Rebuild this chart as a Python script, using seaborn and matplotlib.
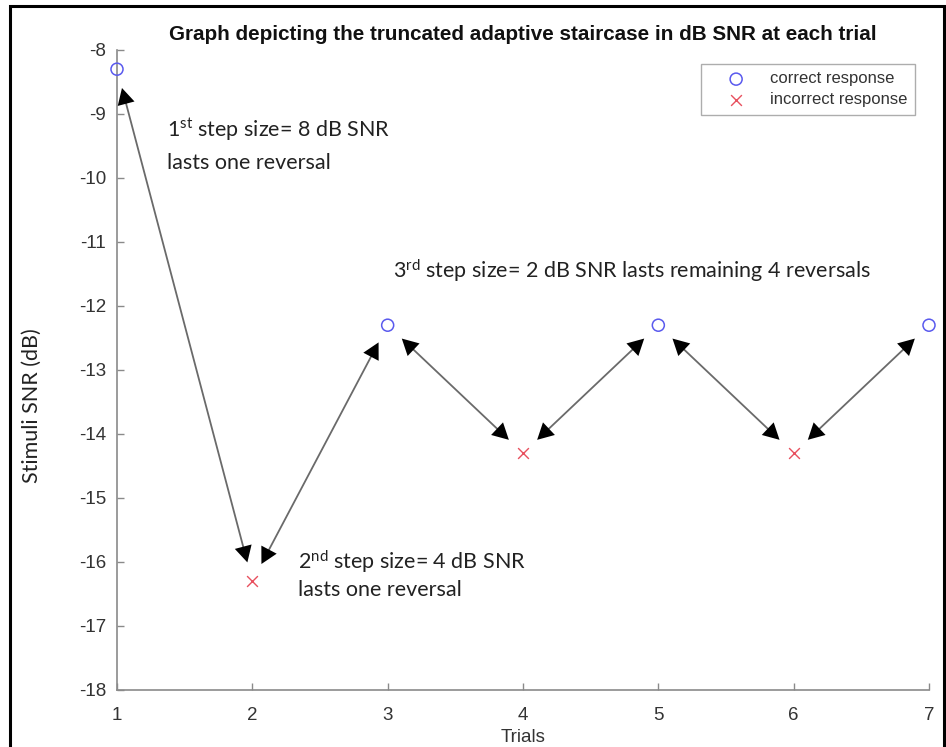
import matplotlib
matplotlib.use("Agg")
import matplotlib.pyplot as plt
from matplotlib.patches import Rectangle
import pandas as pd
import seaborn as sns

# Staircase track: trial number, presented SNR and response outcome
trials = [1, 2, 3, 4, 5, 6, 7]
snr_db = [-8.3, -16.3, -12.3, -14.3, -12.3, -14.3, -12.3]
responses = ["correct response", "incorrect response", "correct response",
             "incorrect response", "correct response", "incorrect response",
             "correct response"]

x_ticks = [1, 2, 3, 4, 5, 6, 7]
y_ticks = [-18, -17, -16, -15, -14, -13, -12, -11, -10, -9, -8]

title = "Graph depicting the truncated adaptive staircase in dB SNR at each trial"
note_1 = ["1$^{\\mathrm{st}}$ step size= 8 dB SNR", "lasts one reversal"]
note_2 = ["2$^{\\mathrm{nd}}$ step size= 4 dB SNR", "lasts one reversal"]
note_3 = "3$^{\\mathrm{rd}}$ step size= 2 dB SNR lasts remaining 4 reversals"

df = pd.DataFrame({"Trial": trials, "SNR": snr_db, "Response": responses})

sns.set_theme(style="white")
plt.rcParams["font.family"] = ["Liberation Sans", "DejaVu Sans"]
plt.rcParams["mathtext.fontset"] = "custom"
plt.rcParams["mathtext.rm"] = "Lato"
plt.rcParams["mathtext.it"] = "Lato:italic"
plt.rcParams["mathtext.bf"] = "Lato:bold"

W, H = 946, 747
fig = plt.figure(figsize=(W / 100, H / 100), dpi=100)
ax = fig.add_axes([117 / W, 1 - 690 / H, (929 - 117) / W, (690 - 50) / H])

blue = "#5a5aee"
red = "#e8505e"
hit = df[df["Response"] == "correct response"]
miss = df[df["Response"] == "incorrect response"]
sns.scatterplot(data=hit, x="Trial", y="SNR", marker="o", s=75,
                facecolors="none", edgecolor=blue, linewidth=1.1,
                label="correct response", ax=ax, zorder=3, clip_on=False)
sns.scatterplot(data=miss, x="Trial", y="SNR", marker="x", s=60,
                color=red, linewidth=1.0,
                label="incorrect response", ax=ax, zorder=3, clip_on=False)

# Double-headed arrows between consecutive trials: grey shaft, black heads
for i in range(len(trials) - 1):
    p0 = (trials[i], snr_db[i])
    p1 = (trials[i + 1], snr_db[i + 1])
    ax.annotate("", xy=p1, xytext=p0,
                arrowprops=dict(arrowstyle="-", color="#6a6a6a", lw=1.3,
                                shrinkA=22, shrinkB=22))
    ax.annotate("", xy=p1, xytext=p0,
                arrowprops=dict(arrowstyle="<|-|>,head_length=0.45,head_width=0.24",
                                mutation_scale=26, color="black", lw=0,
                                shrinkA=14, shrinkB=14))

ax.set_xlim(1, 7)
ax.set_ylim(-18, -8)
ax.set_xticks(x_ticks)
ax.set_yticks(y_ticks)
ax.set_xticklabels([str(t) for t in x_ticks])
ax.set_yticklabels([str(t) for t in y_ticks])

for side in ["top", "right"]:
    ax.spines[side].set_visible(False)
for side in ["left", "bottom"]:
    ax.spines[side].set_color("#8a8a8a")
    ax.spines[side].set_linewidth(1.2)
ax.tick_params(axis="both", direction="in", length=5, width=1.0,
               color="#8a8a8a", labelsize=13.5, labelcolor="#333333",
               left=True, bottom=True)
ax.tick_params(axis="y", pad=8)
ax.tick_params(axis="x", pad=12)

ax.set_xlabel("Trials", fontsize=13.5, color="#333333", labelpad=4)
ax.set_ylabel("Stimuli SNR (dB)", fontsize=15.5, family=["Lato", "DejaVu Sans"],
              color="#222222")
ax.yaxis.set_label_coords(-0.092, 0.444)

fig.text(523 / W, 1 - 35 / H, title, ha="center", va="center",
         fontsize=14.9, fontweight="bold", color="#111111")

note_font = dict(fontsize=15.5, family=["Lato", "DejaVu Sans"], color="#222222",
                 va="center", ha="left")
ax.text(1.37, -9.25, note_1[0], **note_font)
ax.text(1.37, -9.77, note_1[1], **note_font)
ax.text(2.34, -16.0, note_2[0], **note_font)
ax.text(2.34, -16.44, note_2[1], **note_font)
ax.text(3.04, -11.44, note_3, **note_font)

leg = ax.legend(loc="upper right", bbox_to_anchor=(915 / W, 1 - 64 / H),
                bbox_transform=fig.transFigure, borderaxespad=0,
                fontsize=12, frameon=True, fancybox=False,
                handletextpad=0.39, borderpad=0.45, labelspacing=0.35,
                handlelength=3.3)
leg.get_frame().set_edgecolor("#999999")
leg.get_frame().set_linewidth(1.0)
for t in leg.get_texts():
    t.set_color("#333333")

# Outer frame around the figure
fig.patches.append(Rectangle((10 / W, -0.02), (944 - 10) / W, 1.02 - 6 / H,
                             transform=fig.transFigure, fill=False,
                             edgecolor="black", linewidth=2.2))

fig.savefig("out.png", dpi=100)
